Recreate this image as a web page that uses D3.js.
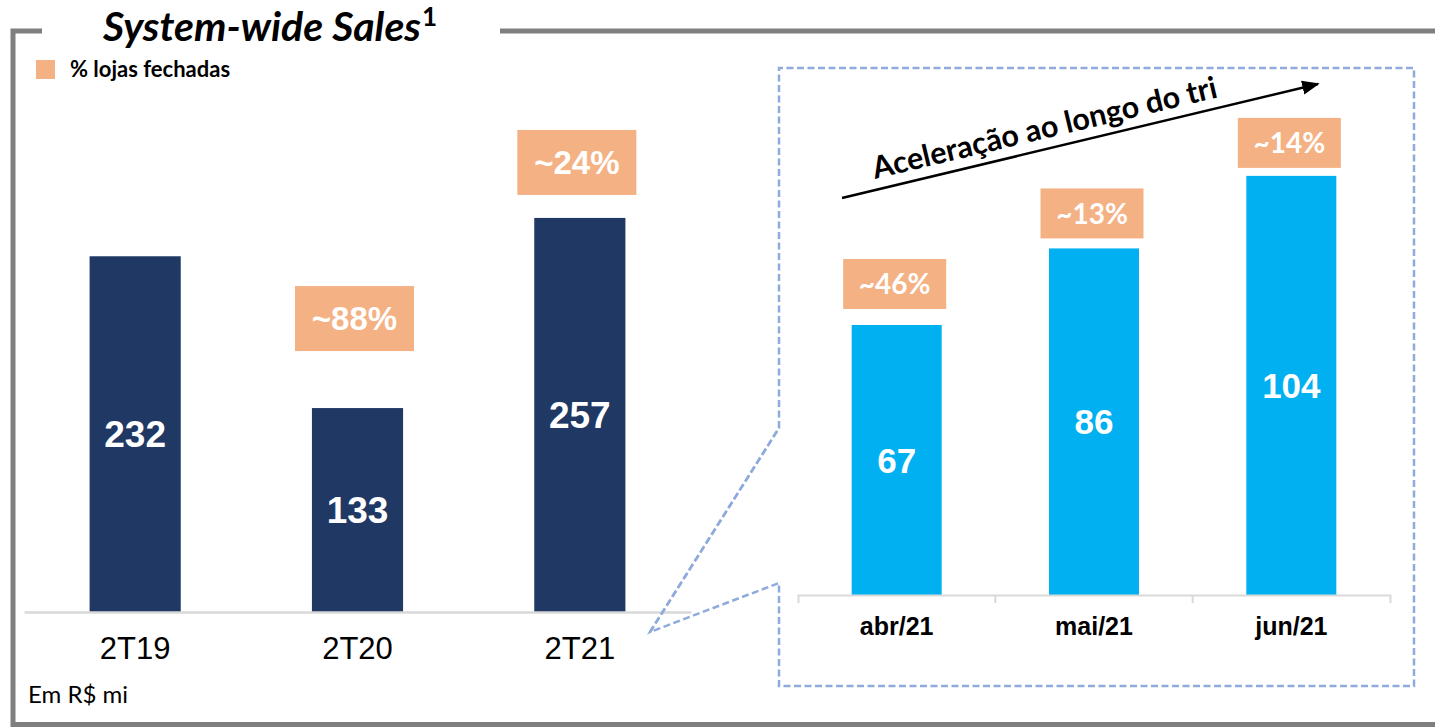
<!DOCTYPE html>
<html>
<head>
<meta charset="utf-8">
<script src="https://cdn.jsdelivr.net/npm/d3@7"></script>
<style>
  html, body { margin: 0; padding: 0; background: #fff; }
  svg { display: block; }
</style>
</head>
<body>
<svg id="chart"></svg>
<script>
// quarterly system-wide sales (R$ mi)
const quarters = ['2T19', '2T20', '2T21'];
const quarterSales = [232, 133, 257];
const quarterClosed = [null, 88, 24];

// monthly breakdown of 2T21
const months = ['abr/21', 'mai/21', 'jun/21'];
const monthSales = [67, 86, 104];
const monthClosed = [46, 13, 14];

const width = 1435;
const height = 727;
const navy = '#203864';
const cyan = '#00b0f0';
const peach = '#f4b183';
const dashBlue = '#8faadc';
const frameGray = '#7f7f7f';
const calibri = 'Lato, "Open Sans", sans-serif';
const arial = '"Liberation Sans", Arial, sans-serif';

// manual gaps between bar top and the % box, as on the slide
const boxGapLeft = [0, 57, 23];
const boxGapRight = [16, 10, 8];

const svg = d3.select('#chart')
    .attr('width', width)
    .attr('height', height);

// ---- frame ----
const frame = svg.append('g')
    .attr('fill', 'none')
    .attr('stroke', frameGray)
    .attr('stroke-width', 5);
frame.append('path').attr('d', 'M42,31 H13 V724.5 H1435');
frame.append('path').attr('d', 'M500,31 H1435');

svg.append('text')
    .attr('x', 103)
    .attr('y', 41)
    .attr('font-family', calibri)
    .attr('font-weight', 700)
    .attr('font-style', 'italic')
    .attr('font-size', 41)
    .text('System-wide Sales')
    .append('tspan')
    .attr('font-size', 26)
    .attr('font-style', 'normal')
    .attr('dx', 1)
    .attr('dy', -15)
    .text('1');

// legend
svg.append('rect')
    .attr('x', 36).attr('y', 60)
    .attr('width', 19).attr('height', 19)
    .attr('fill', peach);
svg.append('text')
    .attr('x', 70).attr('y', 77)
    .attr('font-family', calibri)
    .attr('font-weight', 700)
    .attr('font-size', 22)
    .text('% lojas fechadas');

svg.append('text')
    .attr('x', 28).attr('y', 703)
    .attr('font-family', calibri)
    .attr('font-size', 24)
    .text('Em R$ mi');

// ---- left chart: quarters ----
const xL = d3.scaleBand()
    .domain(quarters)
    .range([24, 691])
    .paddingInner(0.59)
    .paddingOuter(0.295);
const yL = d3.scaleLinear()
    .domain([0, 300])
    .range([612, 152]);

const left = svg.append('g');
left.selectAll('rect.bar')
    .data(quarters)
    .join('rect')
    .attr('class', 'bar')
    .attr('x', d => xL(d))
    .attr('y', (d, i) => yL(quarterSales[i]))
    .attr('width', xL.bandwidth())
    .attr('height', (d, i) => yL(0) - yL(quarterSales[i]))
    .attr('fill', navy);

left.selectAll('text.val')
    .data(quarters)
    .join('text')
    .attr('class', 'val')
    .attr('x', d => xL(d) + xL.bandwidth() / 2)
    .attr('y', (d, i) => (yL(quarterSales[i]) + yL(0)) / 2)
    .attr('dy', '0.36em')
    .attr('text-anchor', 'middle')
    .attr('fill', '#fff')
    .attr('font-family', arial)
    .attr('font-weight', 700)
    .attr('font-size', 37)
    .text((d, i) => quarterSales[i]);

const axisL = left.append('g')
    .attr('transform', `translate(0,${yL(0)})`)
    .call(d3.axisBottom(xL).tickSize(0).tickSizeOuter(0).tickPadding(25));
axisL.select('.domain').attr('stroke', '#d9d9d9').attr('stroke-width', 2.5);
axisL.selectAll('text')
    .attr('fill', '#000')
    .attr('font-family', arial)
    .attr('font-size', 31);

const boxesL = left.selectAll('g.box')
    .data(quarters.filter((d, i) => quarterClosed[i] !== null))
    .join('g')
    .attr('class', 'box')
    .attr('transform', d => {
        const i = quarters.indexOf(d);
        const cx = xL(d) + xL.bandwidth() / 2 - 3;
        const bottom = yL(quarterSales[i]) - boxGapLeft[i];
        return `translate(${cx},${bottom})`;
    });
boxesL.append('rect')
    .attr('x', -59.5).attr('y', -65)
    .attr('width', 119).attr('height', 65)
    .attr('fill', peach);
boxesL.append('text')
    .attr('y', -32.5)
    .attr('dy', '0.36em')
    .attr('text-anchor', 'middle')
    .attr('fill', '#fff')
    .attr('font-family', arial)
    .attr('font-weight', 700)
    .attr('font-size', 33)
    .text(d => `~${quarterClosed[quarters.indexOf(d)]}%`);

// ---- callout from 2T21 to the monthly panel ----
svg.append('path')
    .attr('d', 'M779,428 V68 H1414 V686 H779 V583 L650,632 Z')
    .attr('fill', 'none')
    .attr('stroke', dashBlue)
    .attr('stroke-width', 2.5)
    .attr('stroke-dasharray', '7,3.5');
svg.append('path')
    .attr('d', 'M650,632 L779,428')
    .attr('fill', 'none')
    .attr('stroke', dashBlue)
    .attr('stroke-width', 2.5)
    .attr('stroke-dasharray', '7,3.5');

// ---- right chart: months ----
const xR = d3.scaleBand()
    .domain(months)
    .range([798, 1390])
    .paddingInner(0.544)
    .paddingOuter(0.272);
const yR = d3.scaleLinear()
    .domain([0, 120])
    .range([595, 111.4]);

const right = svg.append('g');
right.selectAll('rect.bar')
    .data(months)
    .join('rect')
    .attr('class', 'bar')
    .attr('x', d => xR(d))
    .attr('y', (d, i) => yR(monthSales[i]))
    .attr('width', xR.bandwidth())
    .attr('height', (d, i) => yR(0) - yR(monthSales[i]))
    .attr('fill', cyan);

right.selectAll('text.val')
    .data(months)
    .join('text')
    .attr('class', 'val')
    .attr('x', d => xR(d) + xR.bandwidth() / 2)
    .attr('y', (d, i) => (yR(monthSales[i]) + yR(0)) / 2)
    .attr('dy', '0.36em')
    .attr('text-anchor', 'middle')
    .attr('fill', '#fff')
    .attr('font-family', arial)
    .attr('font-weight', 700)
    .attr('font-size', 35)
    .text((d, i) => monthSales[i]);

const axisR = right.append('g')
    .attr('transform', `translate(0,${yR(0)})`)
    .call(d3.axisBottom(xR).tickSize(0).tickSizeOuter(8).tickPadding(22));
axisR.select('.domain').attr('stroke', '#d9d9d9').attr('stroke-width', 2);
axisR.selectAll('text')
    .attr('fill', '#000')
    .attr('font-family', arial)
    .attr('font-weight', 700)
    .attr('font-size', 25);
// separators between categories
axisR.selectAll('line.sep')
    .data(months.slice(1))
    .join('line')
    .attr('class', 'sep')
    .attr('x1', d => xR(d) - xR.step() * xR.paddingInner() / 2)
    .attr('x2', d => xR(d) - xR.step() * xR.paddingInner() / 2)
    .attr('y1', 0).attr('y2', 8)
    .attr('stroke', '#d9d9d9')
    .attr('stroke-width', 2);

const boxesR = right.selectAll('g.box')
    .data(months)
    .join('g')
    .attr('class', 'box')
    .attr('transform', (d, i) => {
        const cx = xR(d) + xR.bandwidth() / 2 - 2;
        const bottom = yR(monthSales[i]) - boxGapRight[i];
        return `translate(${cx},${bottom})`;
    });
boxesR.append('rect')
    .attr('x', -51.5).attr('y', -50)
    .attr('width', 103).attr('height', 50)
    .attr('fill', peach);
boxesR.append('text')
    .attr('y', -25)
    .attr('dy', '0.36em')
    .attr('text-anchor', 'middle')
    .attr('fill', '#fff')
    .attr('font-family', calibri)
    .attr('font-weight', 700)
    .attr('font-size', 28)
    .text((d, i) => `~${monthClosed[i]}%`);

// acceleration arrow
svg.append('defs').append('marker')
    .attr('id', 'head')
    .attr('viewBox', '0 0 10 10')
    .attr('refX', 9).attr('refY', 5)
    .attr('markerWidth', 7).attr('markerHeight', 7)
    .attr('markerUnits', 'strokeWidth')
    .attr('orient', 'auto')
    .append('path')
    .attr('d', 'M0,1 L10,5 L0,9 Z')
    .attr('fill', '#000');
svg.append('line')
    .attr('x1', 842).attr('y1', 198)
    .attr('x2', 1318).attr('y2', 84)
    .attr('stroke', '#000')
    .attr('stroke-width', 2.5)
    .attr('marker-end', 'url(#head)');
svg.append('text')
    .attr('transform', 'translate(875,179) rotate(-13.4)')
    .attr('font-family', calibri)
    .attr('font-weight', 700)
    .attr('font-size', 30.5)
    .text('Aceleração ao longo do tri');
</script>
</body>
</html>
